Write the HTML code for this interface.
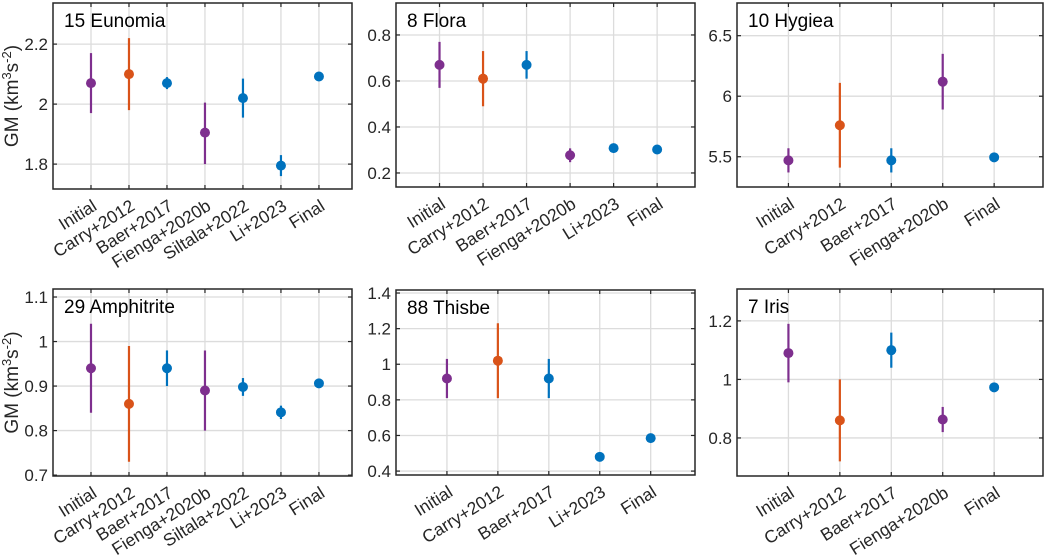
<!DOCTYPE html>
<html><head><meta charset="utf-8"><style>
html,body{margin:0;padding:0;background:#fff;}
svg{display:block;font-family:"Liberation Sans",Arial,sans-serif;}
</style></head><body>
<svg id="fig" width="1044" height="557" viewBox="0 0 1044 557"></svg>
<script>
const NS='http://www.w3.org/2000/svg';
const PURPLE='#7E2F8E',ORANGE='#D95319',BLUE='#0072BD';
// Panel data
const eunomiaCats=['Initial','Carry+2012','Baer+2017','Fienga+2020b','Siltala+2022','Li+2023','Final'];
const eunomiaVals=[2.07,2.10,2.07,1.905,2.02,1.795,2.092];
const eunomiaLo=[1.97,1.98,2.05,1.80,1.955,1.76,2.082];
const eunomiaHi=[2.17,2.22,2.09,2.005,2.085,1.83,2.102];
const eunomiaTicks=[1.8,2.0,2.2];
const floraCats=['Initial','Carry+2012','Baer+2017','Fienga+2020b','Li+2023','Final'];
const floraVals=[0.67,0.61,0.67,0.277,0.308,0.302];
const floraLo=[0.57,0.49,0.61,0.247,0.298,0.297];
const floraHi=[0.77,0.73,0.73,0.307,0.318,0.307];
const floraTicks=[0.2,0.4,0.6,0.8];
const hygieaCats=['Initial','Carry+2012','Baer+2017','Fienga+2020b','Final'];
const hygieaVals=[5.47,5.76,5.47,6.12,5.495];
const hygieaLo=[5.37,5.41,5.37,5.89,5.485];
const hygieaHi=[5.57,6.11,5.57,6.35,5.505];
const hygieaTicks=[5.5,6.0,6.5];
const amphCats=['Initial','Carry+2012','Baer+2017','Fienga+2020b','Siltala+2022','Li+2023','Final'];
const amphVals=[0.94,0.86,0.94,0.89,0.898,0.841,0.906];
const amphLo=[0.84,0.73,0.90,0.80,0.878,0.826,0.901];
const amphHi=[1.04,0.99,0.98,0.98,0.918,0.856,0.911];
const amphTicks=[0.7,0.8,0.9,1.0,1.1];
const thisbeCats=['Initial','Carry+2012','Baer+2017','Li+2023','Final'];
const thisbeVals=[0.92,1.02,0.92,0.48,0.585];
const thisbeLo=[0.81,0.81,0.81,0.46,0.58];
const thisbeHi=[1.03,1.23,1.03,0.50,0.59];
const thisbeTicks=[0.4,0.6,0.8,1.0,1.2,1.4];
const irisCats=['Initial','Carry+2012','Baer+2017','Fienga+2020b','Final'];
const irisVals=[1.09,0.86,1.10,0.863,0.973];
const irisLo=[0.99,0.72,1.04,0.82,0.968];
const irisHi=[1.19,1.00,1.16,0.906,0.978];
const irisTicks=[0.8,1.0,1.2];
const colorsA=[PURPLE,ORANGE,BLUE,PURPLE,BLUE,BLUE,BLUE];
const colorsB=[PURPLE,ORANGE,BLUE,PURPLE,BLUE,BLUE];
const colorsC=[PURPLE,ORANGE,BLUE,PURPLE,BLUE];
const colorsD=[PURPLE,ORANGE,BLUE,BLUE,BLUE];

const svg=document.getElementById('fig');
function el(tag,attrs,parent){const e=document.createElementNS(NS,tag);for(const k in attrs)e.setAttribute(k,attrs[k]);(parent||svg).appendChild(e);return e;}
function fmt(v){return (Math.round(v*10)/10).toString().replace(/\.0$/,'');}

const panels=[
 {name:'eunomia',title:'15 Eunomia',box:[53,3,352,189],y:[1.717,2.337],xmax:7.87,cats:eunomiaCats,v:eunomiaVals,lo:eunomiaLo,hi:eunomiaHi,ticks:eunomiaTicks,col:colorsA,ylab:true},
 {name:'flora',title:'8 Flora',box:[396,3,695,187],y:[0.139,0.939],xmax:6.87,cats:floraCats,v:floraVals,lo:floraLo,hi:floraHi,ticks:floraTicks,col:colorsB},
 {name:'hygiea',title:'10 Hygiea',box:[737,3,1043,187],y:[5.25,6.77],xmax:5.95,cats:hygieaCats,v:hygieaVals,lo:hygieaLo,hi:hygieaHi,ticks:hygieaTicks,col:colorsC},
 {name:'amphitrite',title:'29 Amphitrite',box:[53,289,352,476],y:[0.698,1.118],xmax:7.87,cats:amphCats,v:amphVals,lo:amphLo,hi:amphHi,ticks:amphTicks,col:colorsA,ylab:true},
 {name:'thisbe',title:'88 Thisbe',box:[396,290,695,475],y:[0.378,1.417],xmax:5.87,cats:thisbeCats,v:thisbeVals,lo:thisbeLo,hi:thisbeHi,ticks:thisbeTicks,col:colorsD},
 {name:'iris',title:'7 Iris',box:[737,289,1043,476],y:[0.67,1.309],xmax:5.95,cats:irisCats,v:irisVals,lo:irisLo,hi:irisHi,ticks:irisTicks,col:colorsC}
];

panels.forEach(p=>{
 const [x0,y0,x1,y1]=p.box;
 const xs=i=>x0+(i+1)/p.xmax*(x1-x0);
 const ys=v=>y1-(v-p.y[0])/(p.y[1]-p.y[0])*(y1-y0);
 const g=el('g',{});
 
 
 el('rect',{x:x0,y:y0,width:x1-x0,height:y1-y0,fill:'#fff'},g);
 p.cats.forEach((c,i)=>{const l=el('line',{x1:xs(i),x2:xs(i),y1:y0,y2:y1,stroke:'#dcdcdc','stroke-width':1.3},g);
  });
 p.ticks.forEach(t=>{const l=el('line',{x1:x0,x2:x1,y1:ys(t),y2:ys(t),stroke:'#dcdcdc','stroke-width':1.3},g);
  });
 p.ticks.forEach(t=>{
  el('line',{x1:x0,x2:x0+4,y1:ys(t),y2:ys(t),stroke:'#262626','stroke-width':1.2},g);
  el('line',{x1:x1,x2:x1-4,y1:ys(t),y2:ys(t),stroke:'#262626','stroke-width':1.2},g);
  const tl=el('text',{x:x0-5,y:ys(t)+6,'text-anchor':'end','font-size':17,fill:'#262626'},g);
  tl.textContent=fmt(t);
  
 });
 p.cats.forEach((c,i)=>{
  el('line',{x1:xs(i),x2:xs(i),y1:y1,y2:y1-4,stroke:'#262626','stroke-width':1.2},g);
  el('line',{x1:xs(i),x2:xs(i),y1:y0,y2:y0+4,stroke:'#262626','stroke-width':1.2},g);
  const ax=xs(i)+7,ay=y1+20;
  const tl=el('text',{x:ax,y:ay,'text-anchor':'end','font-size':17.5,fill:'#262626',transform:`rotate(-32 ${ax} ${ay})`},g);
  tl.textContent=c;
  
 });
 p.cats.forEach((c,i)=>{
  const e=el('line',{x1:xs(i),x2:xs(i),y1:ys(p.lo[i]),y2:ys(p.hi[i]),stroke:p.col[i],'stroke-width':2.2},g);
  
  const m=el('circle',{cx:xs(i),cy:ys(p.v[i]),r:5,fill:p.col[i]},g);
  
 });
 el('rect',{x:x0,y:y0,width:x1-x0,height:y1-y0,fill:'none',stroke:'#262626','stroke-width':1.5},g);
 const t=el('text',{x:x0+11,y:y0+24,'font-size':19,fill:'#000'},g);
 t.textContent=p.title;
 
 if(p.ylab){
  const cy=(y0+y1)/2;
  const yl=el('text',{x:18,y:cy,'text-anchor':'middle','font-size':19,fill:'#262626',transform:`rotate(-90 18 ${cy})`},g);
  
  yl.innerHTML='GM (km<tspan dy="-7" font-size="13">3</tspan><tspan dy="7">s</tspan><tspan dy="-7" font-size="13">-2</tspan><tspan dy="7">)</tspan>';
 }
});
</script>
</body></html>
